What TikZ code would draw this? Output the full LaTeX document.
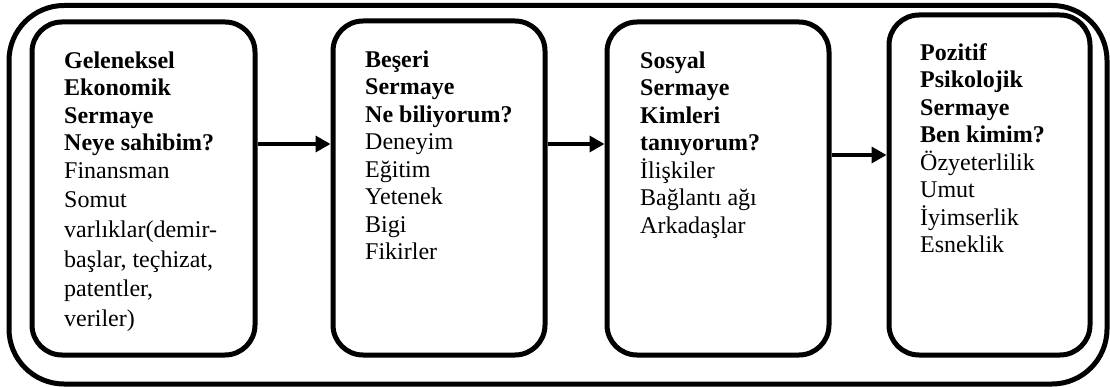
\documentclass[tikz,border=0pt]{standalone}
\usepackage{fontspec}
\setmainfont{Liberation Serif}
\usetikzlibrary{arrows.meta}
\begin{document}
\begin{tikzpicture}[x=1pt,y=-1pt,
  outerbox/.style={draw, line width=5pt, rounded corners=55pt, inner sep=0pt},
  capbox/.style={draw, line width=5pt, rounded corners=30pt, inner sep=0pt},
  txt/.style={anchor=north west, inner sep=0pt, align=left, font=\fontsize{24}{27.5}\selectfont},
  conn/.style={line width=3.5pt, -{Triangle[length=15pt,width=16pt]}}]
\useasboundingbox (0,0) rectangle (1110,387);
\node[outerbox, minimum width=1098pt, minimum height=378.5pt] (outer) at (558,194.75) {};
\node[capbox, minimum width=223pt, minimum height=333pt] (b1) at (143.5,188.5) {};
\node[capbox, minimum width=212pt, minimum height=334pt] (b2) at (439,188) {};
\node[capbox, minimum width=222pt, minimum height=333pt] (b3) at (718,188.5) {};
\node[capbox, minimum width=201pt, minimum height=340pt] (b4) at (989.5,185) {};
\node[txt] (t1) at (64,48.75) {\strut\textbf{Geleneksel}\\\textbf{Ekonomik}\\\textbf{Sermaye}\\\textbf{Neye sahibim?}\\Finansman\\[2.1pt]Somut\\[2.1pt]varlıklar(demir-\\[2.1pt]başlar, teçhizat,\\[2.1pt]patentler,\\[2.1pt]veriler)};
\node[txt] (t2) at (365,47.75) {\strut\textbf{Beşeri}\\\textbf{Sermaye}\\\textbf{Ne biliyorum?}\\Deneyim\\Eğitim\\Yetenek\\Bigi\\Fikirler};
\node[txt] (t3) at (640,48.75) {\strut\textbf{Sosyal}\\\textbf{Sermaye}\\\textbf{Kimleri}\\\textbf{tanıyorum?}\\İlişkiler\\Bağlantı ağı\\Arkadaşlar};
\node[txt] (t4) at (920,40.75) {\strut\textbf{Pozitif}\\\textbf{Psikolojik}\\\textbf{Sermaye}\\\textbf{Ben kimim?}\\Özyeterlilik\\Umut\\İyimserlik\\Esneklik};
\draw[conn] (b1.east |- 0,144) -- (b2.west |- 0,144);
\draw[conn] (b2.east |- 0,144) -- (b3.west |- 0,144);
\draw[conn] (b3.east |- 0,155) -- (b4.west |- 0,155);
\end{tikzpicture}
\end{document}
